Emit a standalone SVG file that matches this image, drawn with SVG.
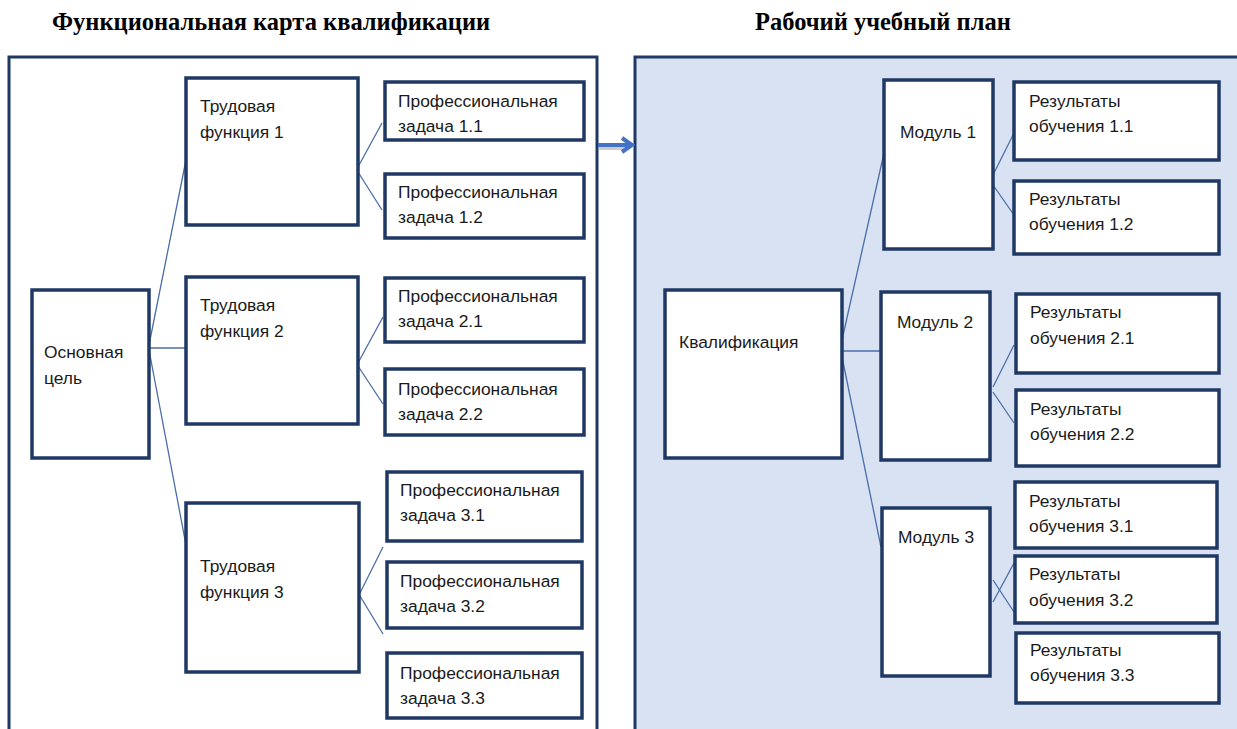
<svg xmlns="http://www.w3.org/2000/svg" width="1237" height="729" viewBox="0 0 1237 729">
<style>
.title{font-family:"Liberation Serif","Times New Roman",serif;font-weight:bold;font-size:24.5px;fill:#000}
.box{fill:#fff;stroke:#1f3864;stroke-width:3.5}
.t{font-family:"Liberation Sans",Arial,sans-serif;font-size:17.4px;fill:#1a1a1a}
.m{font-family:"Liberation Sans",Arial,sans-serif;font-size:17.4px;fill:#1a1a1a;text-anchor:middle}
.c{stroke:#4a6ea8;stroke-width:1.3;fill:none}
</style>
<rect width="1237" height="729" fill="#fff"/>
<text class="title" x="52" y="30">Функциональная карта квалификации</text>
<text class="title" x="755" y="30">Рабочий учебный план</text>
<g id="panel-left"><rect x="9" y="57" width="588" height="690" fill="#fff" stroke="#1f3864" stroke-width="3"/></g>
<g id="panel-right"><rect x="635" y="57" width="620" height="690" fill="#d9e2f2" stroke="#1f3864" stroke-width="3"/></g>
<g id="arrow">
<line x1="599" y1="148" x2="628" y2="148" stroke="#9a9a9a" stroke-width="4" opacity="0.5"/>
<line x1="598" y1="145" x2="630" y2="145" stroke="#4472c4" stroke-width="4"/>
<polyline points="622,138 632,145 622,152" fill="none" stroke="#4472c4" stroke-width="4"/>
</g>
<g id="connectors">
<line class="c" x1="149" y1="345" x2="186" y2="160"/>
<line class="c" x1="149" y1="348" x2="186" y2="348"/>
<line class="c" x1="149" y1="350" x2="186" y2="545"/>
<line class="c" x1="358" y1="167" x2="382" y2="123"/>
<line class="c" x1="358" y1="172" x2="382" y2="210"/>
<line class="c" x1="358" y1="363" x2="383" y2="317"/>
<line class="c" x1="358" y1="366" x2="383" y2="404"/>
<line class="c" x1="360" y1="593" x2="383" y2="547"/>
<line class="c" x1="360" y1="596" x2="383" y2="634"/>
<line class="c" x1="842" y1="340" x2="884" y2="153"/>
<line class="c" x1="842" y1="351" x2="884" y2="351"/>
<line class="c" x1="842" y1="357" x2="881" y2="547"/>
<line class="c" x1="993" y1="175" x2="1014" y2="133"/>
<line class="c" x1="993" y1="185" x2="1014" y2="215"/>
<line class="c" x1="993" y1="387" x2="1014" y2="345"/>
<line class="c" x1="993" y1="392" x2="1014" y2="423"/>
<line class="c" x1="993" y1="602" x2="1014" y2="563"/>
<line class="c" x1="993" y1="580" x2="1014" y2="612"/>
</g>
<g id="osnovnaya-cel"><rect class="box" x="32" y="290" width="117" height="168"/><text class="t" x="44" y="358">Основная</text><text class="t" x="44" y="384">цель</text></g>
<g id="tf1"><rect class="box" x="186" y="78" width="172" height="147"/><text class="t" x="200" y="112">Трудовая</text><text class="t" x="200" y="138">функция 1</text></g>
<g id="tf2"><rect class="box" x="186" y="277" width="172" height="147"/><text class="t" x="200" y="311">Трудовая</text><text class="t" x="200" y="337">функция 2</text></g>
<g id="tf3"><rect class="box" x="186" y="503" width="173" height="169"/><text class="t" x="200" y="572">Трудовая</text><text class="t" x="200" y="598">функция 3</text></g>
<g id="pz11"><rect class="box" x="385" y="82" width="199" height="58"/><text class="t" x="398" y="107">Профессиональная</text><text class="t" x="398" y="132">задача 1.1</text></g>
<g id="pz12"><rect class="box" x="385" y="174" width="199" height="64"/><text class="t" x="398" y="198">Профессиональная</text><text class="t" x="398" y="223">задача 1.2</text></g>
<g id="pz21"><rect class="box" x="385" y="278" width="199" height="64"/><text class="t" x="398" y="302">Профессиональная</text><text class="t" x="398" y="327">задача 2.1</text></g>
<g id="pz22"><rect class="box" x="385" y="369" width="199" height="66"/><text class="t" x="398" y="395">Профессиональная</text><text class="t" x="398" y="420">задача 2.2</text></g>
<g id="pz31"><rect class="box" x="387" y="472" width="195" height="69"/><text class="t" x="400" y="496">Профессиональная</text><text class="t" x="400" y="521">задача 3.1</text></g>
<g id="pz32"><rect class="box" x="387" y="562" width="195" height="66"/><text class="t" x="400" y="587">Профессиональная</text><text class="t" x="400" y="612">задача 3.2</text></g>
<g id="pz33"><rect class="box" x="387" y="653" width="195" height="65"/><text class="t" x="400" y="679">Профессиональная</text><text class="t" x="400" y="704">задача 3.3</text></g>
<g id="kvalifikaciya"><rect class="box" x="665" y="290" width="177" height="168"/><text class="t" x="679" y="348">Квалификация</text></g>
<g id="modul1"><rect class="box" x="884" y="80" width="109" height="169"/><text class="m" x="938" y="138">Модуль 1</text></g>
<g id="modul2"><rect class="box" x="881" y="292" width="109" height="168"/><text class="m" x="935" y="328">Модуль 2</text></g>
<g id="modul3"><rect class="box" x="882" y="508" width="108" height="168"/><text class="m" x="936" y="543">Модуль 3</text></g>
<g id="res11"><rect class="box" x="1014" y="82" width="205" height="78"/><text class="t" x="1029" y="107">Результаты</text><text class="t" x="1029" y="132">обучения 1.1</text></g>
<g id="res12"><rect class="box" x="1014" y="181" width="205" height="73"/><text class="t" x="1029" y="205">Результаты</text><text class="t" x="1029" y="230">обучения 1.2</text></g>
<g id="res21"><rect class="box" x="1016" y="294" width="203" height="79"/><text class="t" x="1030" y="318">Результаты</text><text class="t" x="1030" y="344">обучения 2.1</text></g>
<g id="res22"><rect class="box" x="1016" y="390" width="203" height="76"/><text class="t" x="1030" y="415">Результаты</text><text class="t" x="1030" y="440">обучения 2.2</text></g>
<g id="res31"><rect class="box" x="1015" y="482" width="202" height="66"/><text class="t" x="1029" y="507">Результаты</text><text class="t" x="1029" y="532">обучения 3.1</text></g>
<g id="res32"><rect class="box" x="1015" y="556" width="202" height="67"/><text class="t" x="1029" y="580">Результаты</text><text class="t" x="1029" y="606">обучения 3.2</text></g>
<g id="res33"><rect class="box" x="1016" y="633" width="203" height="70"/><text class="t" x="1030" y="656">Результаты</text><text class="t" x="1030" y="681">обучения 3.3</text></g>
</svg>
